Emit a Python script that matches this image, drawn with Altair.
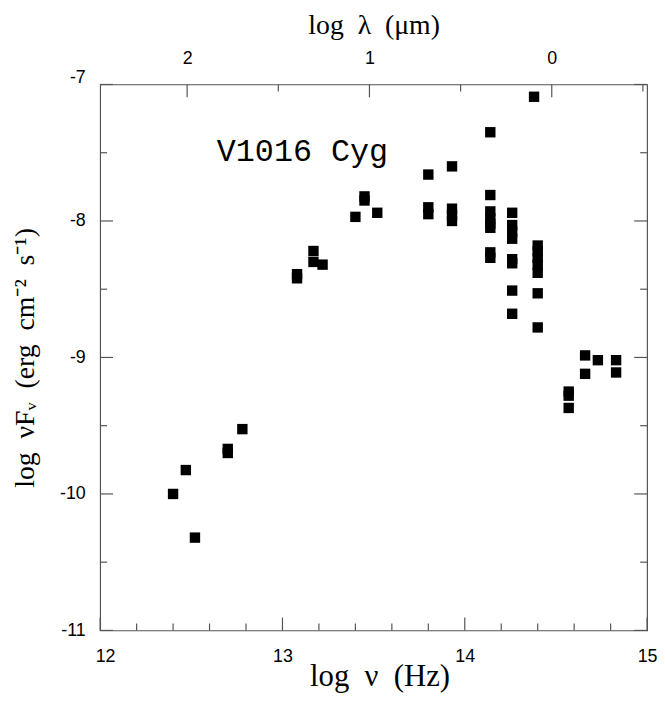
import altair as alt
import pandas as pd

# ---- data ----
log_nu = [12.40, 12.47, 12.52, 12.70, 12.70, 12.78,
          13.08, 13.08, 13.17, 13.17, 13.22,
          13.40, 13.45, 13.45, 13.52,
          13.80, 13.80, 13.80,
          13.93, 13.93, 13.93, 13.93,
          14.14, 14.14, 14.14, 14.14, 14.14, 14.14, 14.14, 14.14,
          14.26, 14.26, 14.26, 14.26, 14.26, 14.26, 14.26, 14.26,
          14.38, 14.40, 14.40, 14.40, 14.40, 14.40, 14.40, 14.40,
          14.57, 14.57, 14.57, 14.66, 14.66, 14.73, 14.83, 14.83]
log_nuFnu = [-10.00, -9.825, -10.32, -9.67, -9.70, -9.525,
             -8.39, -8.42, -8.22, -8.30, -8.32,
             -7.97, -7.82, -7.85, -7.94,
             -7.66, -7.90, -7.95,
             -7.60, -7.91, -7.96, -8.00,
             -7.35, -7.81, -7.93, -7.98, -8.02, -8.05, -8.23, -8.27,
             -7.94, -8.03, -8.08, -8.13, -8.28, -8.31, -8.51, -8.68,
             -7.09, -8.18, -8.22, -8.27, -8.32, -8.38, -8.53, -8.78,
             -9.25, -9.28, -9.37, -8.985, -9.12, -9.02, -9.02, -9.11]

x_major = [12, 13, 14, 15]
x_minor = [12.2, 12.4, 12.6, 12.8, 13.2, 13.4, 13.6, 13.8,
           14.2, 14.4, 14.6, 14.8]
y_major = [-11, -10, -9, -8, -7]
y_minor = [-10.5, -9.5, -8.5, -7.5]
lam_major = [2, 1, 0]
lam_minor = [1.5, 0.5, -0.5]
# log lambda(um) = 14.4771 - log nu(Hz)
lam_domain = [2.4771, -0.5229]

label_text = ["V1016 Cyg"]
label_x = [12.64]
label_y = [-7.56]

W, H = 552, 551
TICK_MAJ, TICK_MIN = 13, 7
FRAME = "#555555"
LABEL_FONT = "Liberation Sans"
TITLE_FONT = "Liberation Serif"
SP = "\u2002"

xs = alt.Scale(domain=[12, 15], nice=False, zero=False)
ys = alt.Scale(domain=[-11, -7], nice=False, zero=False)

pts = pd.DataFrame({"nu": log_nu, "f": log_nuFnu})

points = alt.Chart(pts).mark_square(size=110, color="black", opacity=1).encode(
    x=alt.X("nu:Q", scale=xs,
            axis=alt.Axis(values=x_major, tickSize=0, domain=False, grid=False,
                          labelFont=LABEL_FONT, labelFontSize=18, labelColor="black",
                          labelPadding=17, labelFlush=False, labelOverlap=False,
                          labelOffset={"condition": {"test": "datum.value == 12", "value": 5},
                                       "value": 0},
                          title=f"log{SP}ν{SP}(Hz)", titleFont=TITLE_FONT,
                          titleFontSize=31, titleFontWeight="normal",
                          titleColor="black", titleBaseline="alphabetic",
                          titleY=56, titleX=282)),
    y=alt.Y("f:Q", scale=ys,
            axis=alt.Axis(values=y_major, tickSize=0, domain=False, grid=False,
                          labelFont=LABEL_FONT, labelFontSize=18, labelColor="black",
                          labelPadding=15, labelOverlap=False,
                          labelOffset={"condition": {"test": "datum.value == -7", "value": -7},
                                       "value": 0},
                          labelExpr="datum.value < 0 ? '-' + abs(datum.value) : '' + datum.value",
                          title=f"log{SP}νFᵥ{SP}(erg{SP}cm⁻²{SP}s⁻¹)", titleFont=TITLE_FONT,
                          titleFontSize=28, titleFontWeight="normal",
                          titleColor="black", titleBaseline="alphabetic",
                          titleX=-67)),
)


def xticks(vals, length):
    d = pd.DataFrame({"nu": vals})
    return alt.Chart(d).mark_rule(color=FRAME, strokeWidth=1.2).encode(
        x=alt.X("nu:Q", scale=xs, axis=None),
        y=alt.value(H), y2=alt.value(H - length))


def yticks(vals, length, right=False):
    d = pd.DataFrame({"v": vals})
    x0 = W if right else 0
    x1 = W - length if right else length
    return alt.Chart(d).mark_rule(color=FRAME, strokeWidth=1.2).encode(
        y=alt.Y("v:Q", scale=ys, axis=None),
        x=alt.value(x0), x2=alt.value(x1))


lam_scale = alt.Scale(domain=lam_domain, nice=False, zero=False)
top_major = alt.Chart(pd.DataFrame({"lam": lam_major})).mark_rule(
    color=FRAME, strokeWidth=1.2).encode(
    x=alt.X("lam:Q", scale=lam_scale,
            axis=alt.Axis(orient="top", values=lam_major, tickSize=0, domain=False,
                          grid=False, labelFont=LABEL_FONT, labelFontSize=18,
                          labelColor="black", labelPadding=17, labelFlush=False,
                          labelOverlap=False,
                          title=f"log{SP}λ{SP}(μm)", titleFont=TITLE_FONT,
                          titleFontSize=28, titleFontWeight="normal",
                          titleColor="black", titleBaseline="alphabetic",
                          titleY=-51)),
    y=alt.value(0), y2=alt.value(TICK_MAJ))
top_minor = alt.Chart(pd.DataFrame({"lam": lam_minor})).mark_rule(
    color=FRAME, strokeWidth=1.2).encode(
    x=alt.X("lam:Q", scale=lam_scale, axis=None),
    y=alt.value(0), y2=alt.value(TICK_MIN))

label = alt.Chart(pd.DataFrame({"x": label_x, "y": label_y, "t": label_text})).mark_text(
    font="Liberation Mono", fontSize=32, align="left", baseline="alphabetic",
    color="black").encode(
    x=alt.X("x:Q", scale=xs, axis=None),
    y=alt.Y("y:Q", scale=ys, axis=None),
    text="t:N")

chart = alt.layer(
    xticks(x_major, TICK_MAJ), xticks(x_minor, TICK_MIN),
    yticks(y_major, TICK_MAJ), yticks(y_minor, TICK_MIN),
    yticks(y_major, TICK_MAJ, True), yticks(y_minor, TICK_MIN, True),
    top_major, top_minor,
    points, label,
).resolve_scale(x="independent", y="independent").properties(
    width=W, height=H,
    autosize=alt.AutoSizeParams(type="none"),
    padding={"left": 93, "top": 74, "right": 10, "bottom": 64},
).configure_view(stroke=FRAME, strokeWidth=1.2)

chart.save("out.html", embed_options={"renderer": "svg", "actions": False})
